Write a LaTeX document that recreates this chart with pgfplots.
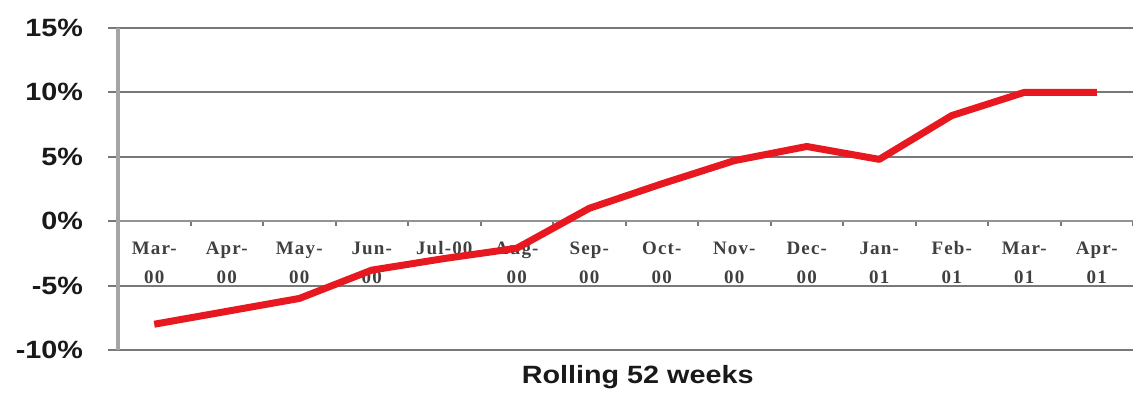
\documentclass[border=0pt]{standalone}
\usepackage{fontspec}
\usepackage{pgfplots}
\pgfplotsset{compat=1.18}
\setmainfont{Liberation Sans}
\newfontfamily\wsans[FakeStretch=1.15]{Liberation Sans}
\newfontfamily\catfont[LetterSpace=6]{Liberation Serif}
\definecolor{redline}{RGB}{232,24,32}
\definecolor{gridc}{RGB}{120,120,120}
\definecolor{axisc}{RGB}{165,165,165}
\newcommand\tl[2]{\vphantom{Mbl}#1\\#2}
\begin{document}
\begin{tikzpicture}
\path[use as bounding box] (-59pt,-22pt) rectangle (507.5pt,175pt);
\begin{axis}[
  at={(0,0)}, anchor=south west,
  scale only axis, width=507.5pt, height=161pt,
  xmin=-0.5, xmax=13.5, ymin=-10, ymax=15,
  axis y line*=left, axis x line*=middle,
  hide obscured x ticks=false, hide obscured y ticks=false,
  y axis line style={axisc, line width=1.8pt},
  x axis line style={gridc!80, line width=0.9pt},
  ytick={-10,-5,0,5,10,15},
  yticklabels={-10\%,-5\%,0\%,5\%,10\%,15\%},
  ymajorgrids, grid style={gridc, line width=1pt},
  tick align=outside, major tick length=5pt, minor tick length=2.5pt,
  ytick style={gridc, line width=1pt},
  xtick={0,...,13},
  major x tick style={draw=none},
  minor xtick={-0.5,0.5,...,13.5},
  minor x tick style={gridc, line width=1pt},
  xticklabels={{\tl{Mar-}{00}},{\tl{Apr-}{00}},{\tl{May-}{00}},{\tl{Jun-}{00}},{\vphantom{Mbl}Jul-00},{\tl{Aug-}{00}},{\tl{Sep-}{00}},{\tl{Oct-}{00}},{\tl{Nov-}{00}},{\tl{Dec-}{00}},{\tl{Jan-}{01}},{\tl{Feb-}{01}},{\tl{Mar-}{01}},{\tl{Apr-}{01}}},
  xticklabel style={font=\catfont\bfseries\fontsize{9.5}{14.5}\selectfont, align=center, anchor=north, yshift=-1.5pt, text=black!75},
  yticklabel style={font=\wsans\bfseries\fontsize{12.5}{14}\selectfont, xshift=-9pt, text=black!90},
  xlabel={Rolling 52 weeks},
  xlabel style={font=\wsans\bfseries\fontsize{12.5}{14}\selectfont, at={(axis description cs:0.512,0)}, anchor=north, yshift=-4pt, text=black!90},
  clip=false,
]
\addplot[redline, line width=3.5pt, line join=round, mark=none] coordinates {
  (0,-8.0) (1,-7.0) (2,-6.0) (3,-3.8) (4,-2.9) (5,-2.1) (6,1.0)
  (7,2.9) (8,4.7) (9,5.8) (10,4.8) (11,8.2) (12,10.0) (13,10.0)
};
\end{axis}
\end{tikzpicture}
\end{document}
